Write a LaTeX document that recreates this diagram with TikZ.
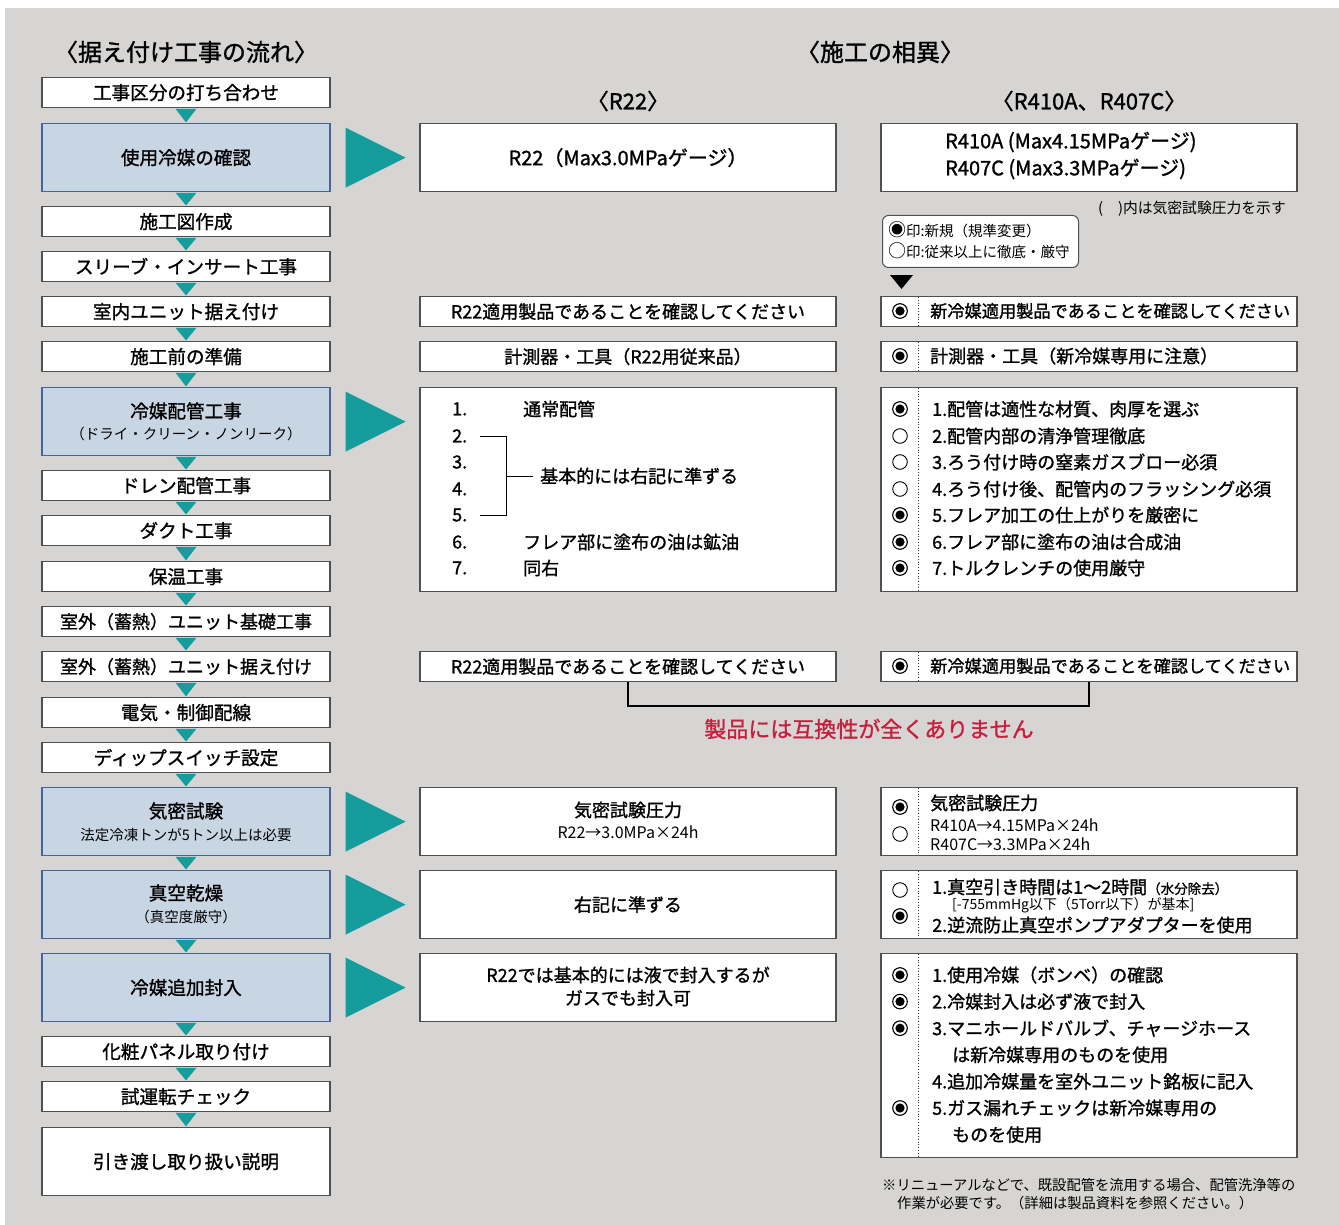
\documentclass[tikz,border=0pt]{standalone}
\usepackage{fontspec}
\setmainfont{Noto Sans CJK JP}
\newfontfamily\jpmed{Noto Sans CJK JP}[FakeBold=1.2]
\usetikzlibrary{calc}
\definecolor{bgc}{RGB}{214,213,211}
\definecolor{tealc}{RGB}{21,156,156}
\definecolor{lbluec}{RGB}{200,214,228}
\definecolor{bbluec}{RGB}{70,100,150}
\definecolor{bgrayc}{RGB}{80,80,80}
\definecolor{redc}{RGB}{198,32,62}
\newcommand\myfs[1]{\fontsize{#1}{#1}\selectfont}
\newcommand\bigmk[1]{{\fontsize{18}{14.5}\selectfont #1}}
\tikzset{
  lbox/.style={draw=bgrayc, line width=1.2pt, fill=white, minimum width=288pt, minimum height=30pt, inner sep=0pt, anchor=north, font=\jpmed\myfs{18.6}},
  bbox/.style={lbox, fill=lbluec, draw=bbluec, minimum height=68pt},
  mbox/.style={draw=bgrayc, line width=1.2pt, fill=white, minimum width=416pt, minimum height=30pt, inner sep=0pt, anchor=north, font=\jpmed\myfs{18}},
  rbox/.style={mbox},
  mt/.style={inner sep=0pt, font=\jpmed\myfs{18}},
  lt/.style={inner sep=0pt, anchor=west, font=\jpmed\myfs{18}},
  st/.style={inner sep=0pt, font=\myfs{14.5}},
  divl/.style={dotted, line width=0.8pt, draw=black!80},
  newmark/.pic={\draw[line width=1.1pt] (0,0) circle (7.3pt); \fill (0,0) circle (4.6pt);},
  oldmark/.pic={\draw[line width=0.9pt] (0,0) circle (7.3pt);},
}
\begin{document}
\begin{tikzpicture}[x=1pt,y=-1pt]
\useasboundingbox (0,0) rectangle (1339,1225);
\fill[bgc] (5,8) rectangle (1339,1225);

% titles
\node[mt, font=\jpmed\myfs{24}] (t1) at (186,52) {〈据え付け工事の流れ〉};
\node[mt, font=\jpmed\myfs{24}] (t2) at (880,52) {〈施工の相異〉};
\node[mt, font=\jpmed\myfs{22}] (t3) at (628,101) {〈R22〉};
\node[mt, font=\jpmed\myfs{22}] (t4) at (1089,101) {〈R410A、R407C〉};

% left flow
\node[lbox] (l1) at (186,77) {工事区分の打ち合わせ};
\node[bbox] (l2) at (186,123) {使用冷媒の確認};
\node[lbox] (l3) at (186,206) {施工図作成};
\node[lbox] (l4) at (186,251) {スリーブ・インサート工事};
\node[lbox] (l5) at (186,296) {室内ユニット据え付け};
\node[lbox] (l6) at (186,341) {施工前の準備};
\node[bbox] (l7) at (186,387) {};
\node[mt, font=\jpmed\myfs{18.6}] (l7a) at (186,411) {冷媒配管工事};
\node[st] (l7b) at (186,434) {（ドライ・クリーン・ノンリーク）};
\node[lbox] (l8) at (186,470) {ドレン配管工事};
\node[lbox] (l9) at (186,515) {ダクト工事};
\node[lbox] (l10) at (186,561) {保温工事};
\node[lbox, font=\jpmed\myfs{18}] (l11) at (186,606) {室外（蓄熱）ユニット基礎工事};
\node[lbox, font=\jpmed\myfs{18}] (l12) at (186,651) {室外（蓄熱）ユニット据え付け};
\node[lbox] (l13) at (186,697) {電気・制御配線};
\node[lbox] (l14) at (186,742) {ディップスイッチ設定};
\node[bbox] (l15) at (186,787) {};
\node[mt, font=\jpmed\myfs{18.6}] (l15a) at (186,811) {気密試験};
\node[st] (l15b) at (186,835) {法定冷凍トンが5トン以上は必要};
\node[bbox] (l16) at (186,870) {};
\node[mt, font=\jpmed\myfs{18.6}] (l16a) at (186,893) {真空乾燥};
\node[st] (l16b) at (186,917) {（真空度厳守）};
\node[bbox] (l17) at (186,953) {冷媒追加封入};
\node[lbox] (l18) at (186,1036) {化粧パネル取り付け};
\node[lbox] (l19) at (186,1081) {試運転チェック};
\node[lbox, minimum height=68pt] (l20) at (186,1127) {引き渡し取り扱い説明};

\foreach \a/\b in {l1/l2,l2/l3,l3/l4,l4/l5,l5/l6,l6/l7,l7/l8,l8/l9,l9/l10,l10/l11,l11/l12,l12/l13,l13/l14,l14/l15,l15/l16,l16/l17,l17/l18,l18/l19,l19/l20}
  \fill[tealc] ($(\a.south)+(-10.5,0.6)$) -- ($(\a.south)+(10.5,0.6)$) -- ($(\b.north)+(0,-0.6)$) -- cycle;

\foreach \a in {l2,l7,l15,l16,l17}
  \fill[tealc] ($(\a.east)+(15,-30)$) -- ($(\a.east)+(15,30)$) -- ($(\a.east)+(75,0)$) -- cycle;

% middle column
\node[mbox, minimum height=68pt, font=\jpmed\myfs{20}] (m2) at (628,123) {R22（Max3.0MPaゲージ）};
\node[mbox] (m5) at (628,296) {R22適用製品であることを確認してください};
\node[mbox] (m6) at (628,341) {計測器・工具（R22用従来品）};
\node[mbox, minimum height=204pt] (m7) at (628,387) {};
\foreach \n/\yy in {1/409,2/436,3/462,4/489,5/515,6/542,7/568}
  \node[lt] (mn\n) at (452,\yy) {\n.};
\node[lt] (mx1) at (523,409) {通常配管};
\node[lt] (mx2) at (540,476) {基本的には右記に準ずる};
\node[lt] (mx6) at (523,542) {フレア部に塗布の油は鉱油};
\node[lt] (mx7) at (523,568) {同右};
\draw[line width=0.9pt] (480,436) -- (506,436) -- (506,515) -- (480,515);
\draw[line width=0.9pt] (506,476) -- (533,476);
\node[mbox] (m12) at (628,651) {R22適用製品であることを確認してください};
\node[mbox, minimum height=68pt] (m15) at (628,787) {};
\node[mt] (m15a) at (628,810) {気密試験圧力};
\node[mt, font=\myfs{16}] (m15b) at (628,832) {R22→3.0MPa×24h};
\node[mbox, minimum height=68pt] (m16) at (628,870) {右記に準ずる};
\node[mbox, minimum height=68pt] (m17) at (628,953) {};
\node[mt] (m17a) at (628,975) {R22では基本的には液で封入するが};
\node[mt] (m17b) at (628,998) {ガスでも封入可};

% right column
\node[rbox, minimum height=68pt] (r2) at (1089,123) {};
\node[lt, font=\jpmed\myfs{20}] (r2a) at (945,142) {R410A (Max4.15MPaゲージ)};
\node[lt, font=\jpmed\myfs{20}] (r2b) at (945,169) {R407C (Max3.3MPaゲージ)};
\node[inner sep=0pt, anchor=west, font=\myfs{14.8}] (note) at (1098,209) {(　)内は気密試験圧力を示す};
\node[draw=bgrayc, line width=1pt, fill=white, rounded corners=6pt, anchor=north west, minimum width=196pt, minimum height=52pt, inner sep=0pt] (leg) at (882,215) {};
\node[inner sep=0pt, anchor=west, font=\myfs{14.5}] (leg1) at (888,230) {\bigmk{◉}印:新規（規準変更）};
\node[inner sep=0pt, anchor=west, font=\myfs{14.5}] (leg2) at (888,251) {\bigmk{○}印:従来以上に徹底・厳守};
\fill ($(leg.south west)+(8,7)$) -- ($(leg.south west)+(31,7)$) -- ($(leg.south west)+(19.5,21)$) -- cycle;

\node[rbox] (r5) at (1089,296) {};
\node[rbox] (r6) at (1089,341) {};
\node[rbox, minimum height=204pt] (r7) at (1089,387) {};
\node[rbox] (r12) at (1089,651) {};
\node[rbox, minimum height=68pt] (r15) at (1089,787) {};
\node[rbox, minimum height=68pt] (r16) at (1089,870) {};
\node[rbox, minimum height=204pt] (r17) at (1089,953) {};
\foreach \r in {r5,r6,r7,r12,r15,r16,r17}
  \draw[divl] ($(\r.north west)+(38,1)$) -- ($(\r.south west)+(38,-1)$);

\node[lt, font=\jpmed\myfs{17.2}] (r5t) at (930,311) {新冷媒適用製品であることを確認してください};
\pic at (900,311) {newmark};
\node[lt] (r6t) at (930,356) {計測器・工具（新冷媒専用に注意）};
\pic at (900,356) {newmark};

\node[lt] (r7a) at (932,409) {1.配管は適性な材質、肉厚を選ぶ};
\node[lt] (r7b) at (932,436) {2.配管内部の清浄管理徹底};
\node[lt] (r7c) at (932,462) {3.ろう付け時の窒素ガスブロー必須};
\node[lt] (r7d) at (932,489) {4.ろう付け後、配管内のフラッシング必須};
\node[lt] (r7e) at (932,515) {5.フレア加工の仕上がりを厳密に};
\node[lt] (r7f) at (932,542) {6.フレア部に塗布の油は合成油};
\node[lt] (r7g) at (932,568) {7.トルクレンチの使用厳守};
\pic at (900,409) {newmark};
\pic at (900,436) {oldmark};
\pic at (900,462) {oldmark};
\pic at (900,489) {oldmark};
\pic at (900,515) {newmark};
\pic at (900,542) {newmark};
\pic at (900,568) {newmark};

\node[lt, font=\jpmed\myfs{17.2}] (r12t) at (930,666) {新冷媒適用製品であることを確認してください};
\pic at (900,666) {newmark};

\draw[line width=2pt] (m12.south) -- ++(0,24) -| (r12.south);
\node[mt, font=\jpmed\myfs{22}, text=redc] (warn) at (869,729) {製品には互換性が全くありません};

\node[lt] (r15a) at (930,803) {気密試験圧力};
\node[lt, font=\myfs{16}] (r15b) at (930,825) {R410A→4.15MPa×24h};
\node[lt, font=\myfs{16}] (r15c) at (930,844) {R407C→3.3MPa×24h};
\pic at (900,807) {newmark};
\pic at (900,834) {oldmark};

\node[lt] (r16a) at (932,887) {1.真空引き時間は1～2時間{\mdseries\myfs{13.5}（水分除去）}};
\node[lt, font=\myfs{14}] (r16b) at (952,905) {[-755mmHg以下（5Torr以下）が基本]};
\node[lt] (r16c) at (932,925) {2.逆流防止真空ポンプアダプターを使用};
\pic at (900,890) {oldmark};
\pic at (900,916) {newmark};

\node[lt] (r17a) at (932,975) {1.使用冷媒（ボンベ）の確認};
\node[lt] (r17b) at (932,1001.6) {2.冷媒封入は必ず液で封入};
\node[lt] (r17c) at (932,1028.2) {3.マニホールドバルブ、チャージホース};
\node[lt] (r17d) at (952,1054.8) {は新冷媒専用のものを使用};
\node[lt] (r17e) at (932,1081.4) {4.追加冷媒量を室外ユニット銘板に記入};
\node[lt] (r17f) at (932,1108) {5.ガス漏れチェックは新冷媒専用の};
\node[lt] (r17g) at (952,1134.6) {ものを使用};
\pic at (900,975) {newmark};
\pic at (900,1001.6) {newmark};
\pic at (900,1028.2) {newmark};
\pic at (900,1108) {newmark};

\node[inner sep=0pt, anchor=west, font=\myfs{14.3}] (fn1) at (882,1185) {※リニューアルなどで、既設配管を流用する場合、配管洗浄等の};
\node[inner sep=0pt, anchor=west, font=\myfs{14.3}] (fn2) at (897,1203) {作業が必要です。（詳細は製品資料を参照ください。）};
\end{tikzpicture}
\end{document}
